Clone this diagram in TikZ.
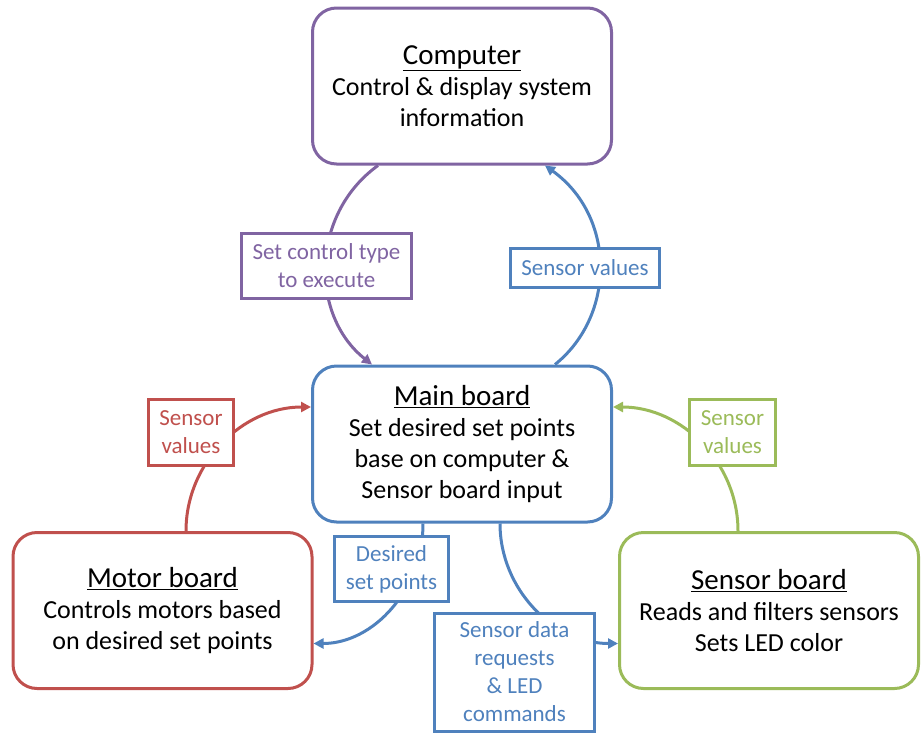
\documentclass[tikz,border=0pt]{standalone}
\usepackage{fontspec}
\setmainfont{Carlito}
\usetikzlibrary{arrows.meta,calc}
\definecolor{purp}{HTML}{8064A2}
\definecolor{blu}{HTML}{4F81BD}
\definecolor{rd}{HTML}{C0504D}
\definecolor{grn}{HTML}{9BBB59}
\newcommand{\boxtitle}[1]{{\fontsize{29}{33}\selectfont\underline{#1}}}
\tikzset{
  flowbox/.style={draw=#1, line width=3pt, rounded corners=24pt, minimum width=299pt,
    minimum height=156pt, align=center, inner sep=0pt, font=\fontsize{26}{31}\selectfont},
  flowtag/.style={draw=#1, text=#1, fill=white, line width=3pt, align=center, inner sep=0pt,
    font=\fontsize{23}{28}\selectfont},
  flowarrow/.style={draw=#1, line width=3pt, -{Triangle[length=10pt,width=10pt]}},
}
\begin{document}
\begin{tikzpicture}[x=1pt, y=1pt]
  \useasboundingbox (0,0) rectangle (924,-734);
  % the four boards
  \node[flowbox=purp] (computer) at (462,-86) {\boxtitle{Computer}\\Control \& display system\\information};
  \node[flowbox=blu] (main) at (462,-444) {\boxtitle{Main board}\\Set desired set points\\base on computer \&\\Sensor board input};
  \node[flowbox=rd] (motor) at (162.5,-610.5) {\boxtitle{Motor board}\\Controls motors based\\on desired set points};
  \node[flowbox=grn] (sensor) at (769,-610.5) {\boxtitle{Sensor board}\\Reads and filters sensors\\Sets LED color};
  % connectors between the boards
  \draw[flowarrow=purp] ($(computer.south)+(-84,0)$) .. controls +(-68,-49) and +(-62,49) .. ($(main.north)+(-90,0)$);
  \draw[flowarrow=blu] ($(main.north)+(93,0)$) .. controls +(61,49) and +(71,-51) .. ($(computer.south)+(83,0)$);
  \draw[flowarrow=rd] ($(motor.north)+(23.5,0)$) .. controls +(0,68) and +(-69,0) .. ($(main.west)+(0,37)$);
  \draw[flowarrow=grn] ($(sensor.north)+(-31,0)$) .. controls +(0,68) and +(69,0) .. ($(main.east)+(0,37)$);
  \draw[flowarrow=blu] ($(main.south)+(-39,0)$) .. controls +(0,-66) and +(60,0) .. ($(motor.east)+(0,-33)$);
  \draw[flowarrow=blu] ($(main.south)+(38,0)$) .. controls +(0,-66) and +(-64,0) .. ($(sensor.west)+(0,-33)$);
  % labels on the connectors
  \node[flowtag=purp, minimum width=170pt, minimum height=65pt] (ctrltag) at (326.5,-266) {Set control type\\to execute};
  \node[flowtag=blu, minimum width=149pt, minimum height=39pt] (topvals) at (585,-268) {Sensor values};
  \node[flowtag=rd, minimum width=85pt, minimum height=66pt] (motorvals) at (191,-432.5) {Sensor\\values};
  \node[flowtag=grn, minimum width=86pt, minimum height=66pt] (sensorvals) at (732.5,-432.5) {Sensor\\values};
  \node[flowtag=blu, minimum width=114pt, minimum height=65pt] (setpts) at (391.5,-569) {Desired\\set points};
  \node[flowtag=blu, minimum width=160pt, minimum height=118pt] (requests) at (514.5,-672) {Sensor data\\requests\\\& LED\\commands};
\end{tikzpicture}
\end{document}
